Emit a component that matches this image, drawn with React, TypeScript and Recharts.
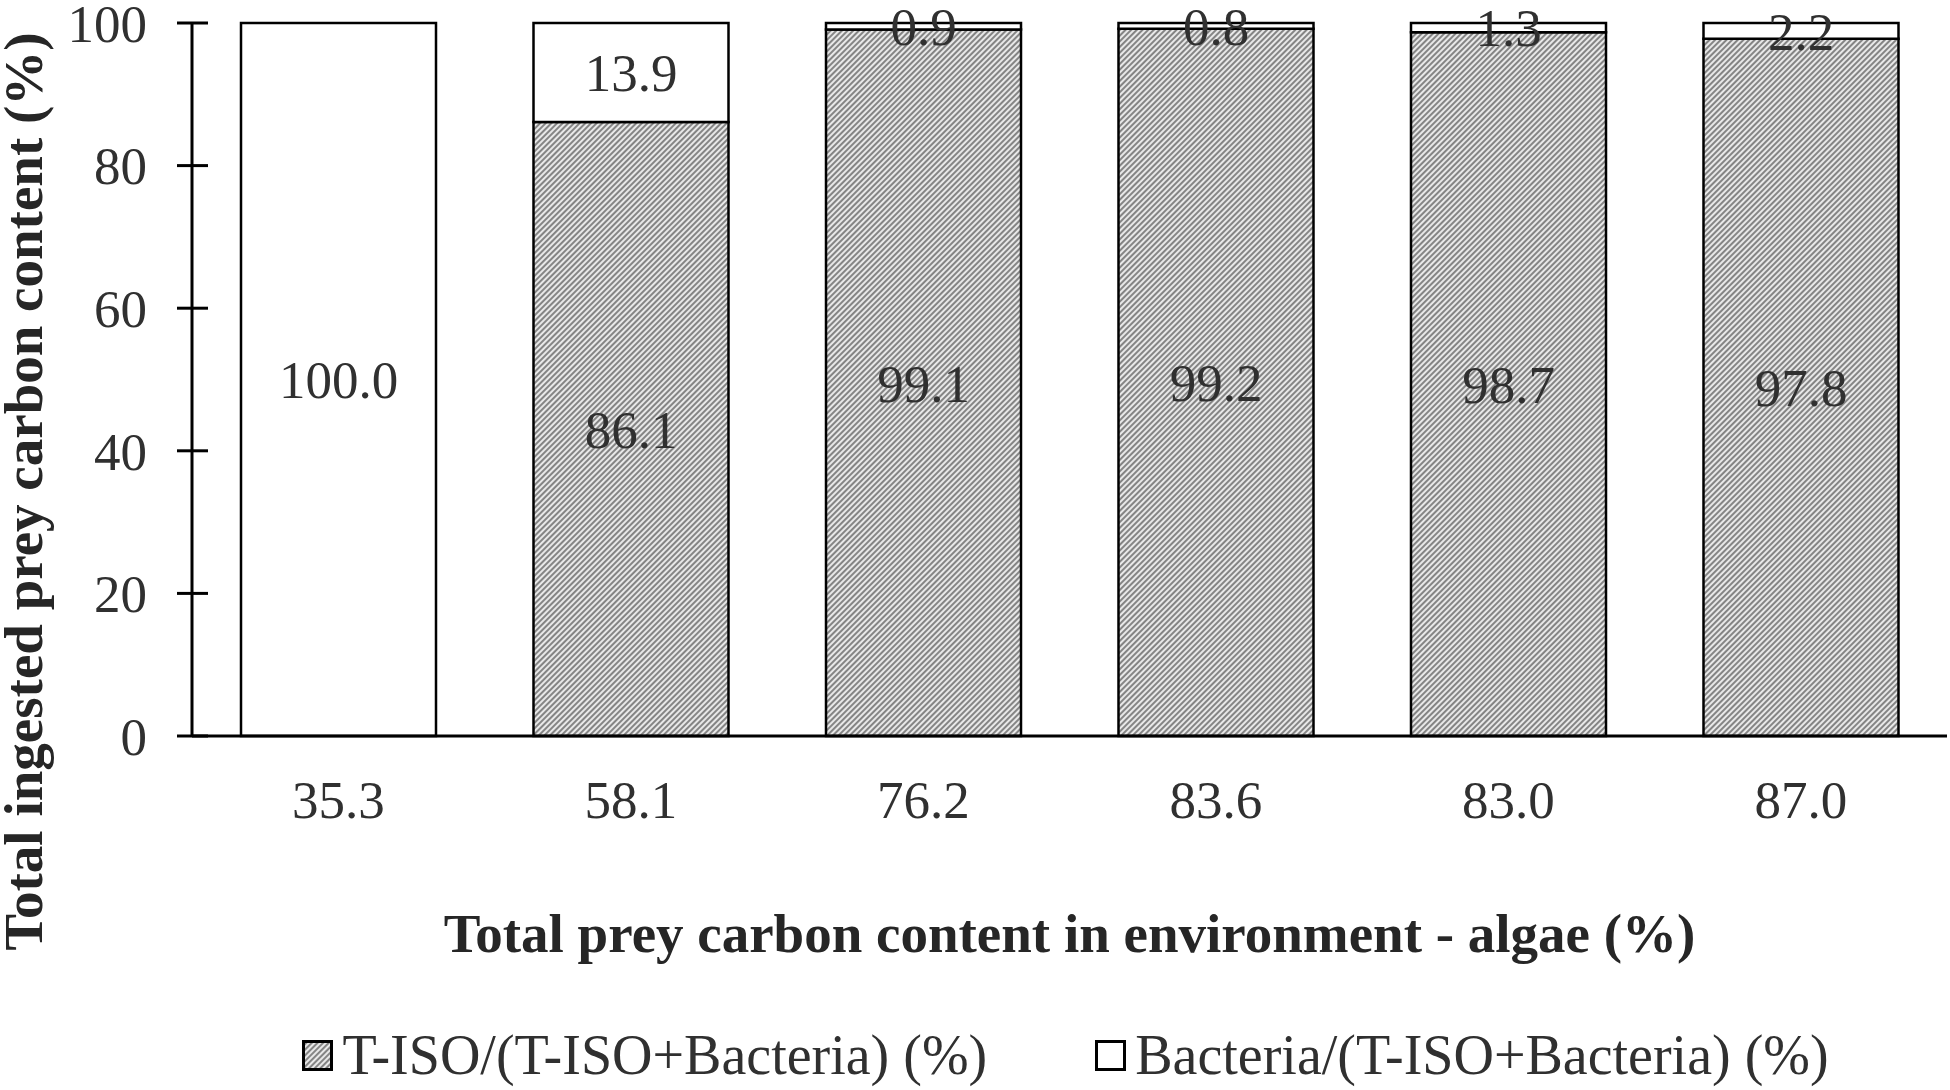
import React from 'react';
import { BarChart, Bar, XAxis, YAxis, LabelList, Legend } from 'recharts';

const categories = ['35.3', '58.1', '76.2', '83.6', '83.0', '87.0'];
const tisoShare = [0, 86.1, 99.1, 99.2, 98.7, 97.8];
const bacteriaShare = [100.0, 13.9, 0.9, 0.8, 1.3, 2.2];
const yTicks = [0, 20, 40, 60, 80, 100];

const seriesNames = {
  tiso: 'T-ISO/(T-ISO+Bacteria) (%)',
  bacteria: 'Bacteria/(T-ISO+Bacteria) (%)',
};
const legendOrder = [seriesNames.tiso, seriesNames.bacteria];
const xTitle = 'Total prey carbon content in environment - algae (%)';
const yTitle = 'Total ingested prey carbon content (%)';

const data = categories.map((c, i) => ({
  env: c,
  tiso: tisoShare[i],
  bacteria: bacteriaShare[i],
}));

const FONT = "'Liberation Serif', 'Times New Roman', Times, serif";
const TEXT = '#303030';
const TITLE = '#262626';
const W = 1950;
const H = 1090;
const Y_LABEL_GAP = 45;
const TICK_OUT = 15;
const TICK_IN = 16;

const YTick = (props: any) => {
  const { x, y, payload } = props;
  const axisX = x + Y_LABEL_GAP;
  return (
    <g>
      <line x1={axisX - TICK_OUT} x2={axisX + TICK_IN} y1={y} y2={y} stroke="#000" strokeWidth={3} />
      <text x={x} y={y} dy="0.355em" textAnchor="end" fontFamily={FONT} fontSize={53} fill={TEXT}>
        {payload.value}
      </text>
    </g>
  );
};

const XTick = (props: any) => {
  const { x, y, payload } = props;
  return (
    <text x={x} y={y} dy="0.71em" textAnchor="middle" fontFamily={FONT} fontSize={53} fill={TEXT}>
      {payload.value}
    </text>
  );
};

const SegmentLabel = (props: any) => {
  const { x, y, width, height, value } = props;
  if (value === undefined || value === null || Number(value) === 0) return null;
  return (
    <text
      x={x + width / 2}
      y={y + height / 2}
      dy="0.355em"
      textAnchor="middle"
      fontFamily={FONT}
      fontSize={53}
      fill={TEXT}
    >
      {Number(value).toFixed(1)}
    </text>
  );
};

const YTitle = (props: any) => {
  const vb = props.viewBox || { x: 0, y: 23, width: 192, height: 713 };
  const cx = vb.x + 42;
  const cy = vb.y + vb.height / 2 + 112;
  return (
    <text
      x={cx}
      y={cy}
      transform={`rotate(-90, ${cx}, ${cy})`}
      textAnchor="middle"
      fontFamily={FONT}
      fontWeight="bold"
      fontSize={55}
      fill={TITLE}
    >
      {yTitle}
    </text>
  );
};

const XTitle = (props: any) => {
  const vb = props.viewBox || { x: 192, y: 736, width: 1755, height: 354 };
  return (
    <text
      x={vb.x + vb.width / 2}
      y={vb.y + 216}
      textAnchor="middle"
      fontFamily={FONT}
      fontWeight="bold"
      fontSize={55}
      fill={TITLE}
    >
      {xTitle}
    </text>
  );
};

const LegendContent = (props: any) => {
  const items = [...(props.payload || [])].sort(
    (a: any, b: any) => legendOrder.indexOf(a.value) - legendOrder.indexOf(b.value)
  );
  return (
    <div
      style={{
        display: 'flex',
        justifyContent: 'center',
        alignItems: 'center',
        gap: 108,
        fontFamily: FONT,
        fontSize: 56,
        lineHeight: '54px',
        color: TEXT,
      }}
    >
      {items.map((entry: any) => (
        <div key={entry.value} style={{ display: 'flex', alignItems: 'center', gap: 9 }}>
          <svg width={31} height={31} style={{ display: 'block' }}>
            <rect x={1.5} y={1.5} width={28} height={28} fill={entry.color} stroke="#000" strokeWidth={3} />
          </svg>
          <span style={{ whiteSpace: 'nowrap' }}>{entry.value}</span>
        </div>
      ))}
    </div>
  );
};

export default function App() {
  return (
    <div style={{ position: 'absolute', left: 0, top: 0, width: W, height: H, background: '#fff' }}>
      <BarChart
        width={W}
        height={H}
        data={data}
        margin={{ top: 23, right: 3, bottom: 0, left: 0 }}
      >
        <defs>
          <pattern id="hatch" width="4" height="4" patternUnits="userSpaceOnUse" patternTransform="rotate(45)">
            <rect x="0" y="0" width="4" height="4" fill="#e8e8e8" />
            <line x1="1" y1="0" x2="1" y2="4" stroke="#5a5a5a" strokeWidth="1.4" />
          </pattern>
        </defs>
        <XAxis
          dataKey="env"
          type="category"
          height={354}
          axisLine={{ stroke: '#000', strokeWidth: 3 }}
          tickLine={false}
          tickSize={6}
          tickMargin={38}
          tick={<XTick />}
          interval={0}
          label={XTitle}
        />
        <YAxis
          type="number"
          domain={[0, 100]}
          ticks={yTicks}
          width={192}
          axisLine={{ stroke: '#000', strokeWidth: 3 }}
          tickLine={false}
          tickSize={0}
          tickMargin={Y_LABEL_GAP}
          tick={<YTick />}
          interval={0}
          label={YTitle}
        />
        <Legend
          verticalAlign="middle"
          align="center"
          layout="horizontal"
          content={<LegendContent />}
          wrapperStyle={{ top: 1028, left: 188, width: 1755 }}
        />
        <Bar
          dataKey="tiso"
          name={seriesNames.tiso}
          stackId="a"
          fill="url(#hatch)"
          stroke="#000"
          strokeWidth={2.5}
          barSize={195}
          isAnimationActive={false}
        >
          <LabelList dataKey="tiso" content={<SegmentLabel />} />
        </Bar>
        <Bar
          dataKey="bacteria"
          name={seriesNames.bacteria}
          stackId="a"
          fill="#ffffff"
          stroke="#000"
          strokeWidth={2.5}
          barSize={195}
          isAnimationActive={false}
        >
          <LabelList dataKey="bacteria" content={<SegmentLabel />} />
        </Bar>
      </BarChart>
    </div>
  );
}
